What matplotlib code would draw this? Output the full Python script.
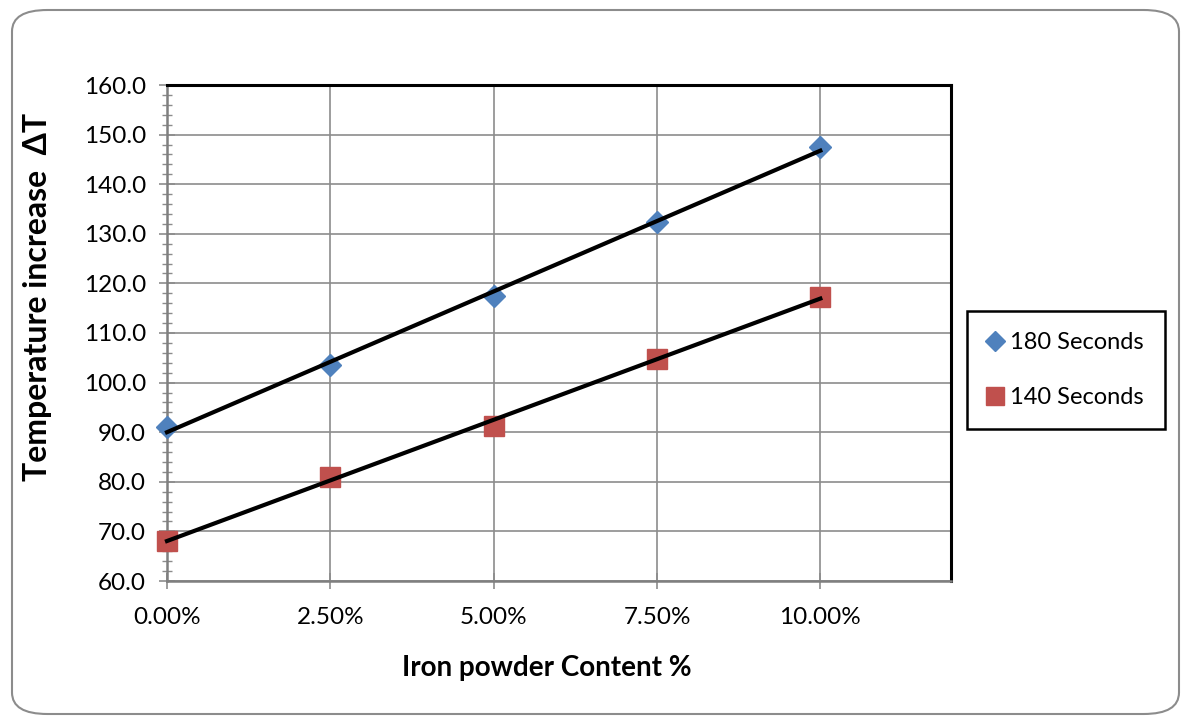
import matplotlib.pyplot as plt
import numpy as np
from matplotlib.patches import FancyBboxPatch
from matplotlib.ticker import MultipleLocator, PercentFormatter

plt.rcParams['font.family'] = ['Lato', 'DejaVu Sans']

# 铁粉含量
iron_content = [0.0, 0.025, 0.05, 0.075, 0.10]
# 温升
dt_180 = [91.0, 103.5, 117.5, 132.4, 147.5]
dt_140 = [68.1, 81.0, 91.3, 104.8, 117.3]

fig = plt.figure(figsize=(11.81, 7.16), dpi=100)

# 外框（圆角）
box = FancyBboxPatch((12 / 1181, 2 / 716), 1167 / 1181, 704 / 716,
                     boxstyle='round,pad=0,rounding_size=0.03',
                     transform=fig.transFigure, facecolor='white',
                     edgecolor='#8c8c8c', linewidth=1.5, zorder=-5)
fig.patches.append(box)

ax = fig.add_axes([167 / 1181, 1 - 581 / 716, (951 - 167) / 1181, (581 - 85) / 716])
ax.set_zorder(2)

ax.plot(iron_content, dt_180, linestyle='none', marker='D', markersize=11,
        color='#4F81BD', label='180 Seconds', zorder=3, clip_on=False)
ax.plot(iron_content, dt_140, linestyle='none', marker='s', markersize=14,
        color='#C0504D', label='140 Seconds', zorder=3, clip_on=False)

# 线性趋势线
x = np.array(iron_content)
for ys in (dt_180, dt_140):
    k, b = np.polyfit(x, ys, 1)
    ax.plot(x, k * x + b, color='black', linewidth=3, zorder=4, clip_on=False)

ax.set_xlim(0, 0.12)
ax.set_ylim(60, 160)
ax.set_xticks(iron_content)
ax.xaxis.set_major_formatter(PercentFormatter(xmax=1, decimals=2))
ax.yaxis.set_major_locator(MultipleLocator(10))
ax.yaxis.set_minor_locator(MultipleLocator(2))
ax.yaxis.set_major_formatter(lambda v, p: f'{v:.1f}')

ax.grid(True, which='major', color='#8c8c8c', linewidth=1.2, zorder=1)
ax.set_axisbelow(True)

ax.tick_params(axis='both', which='major', direction='inout', length=12, width=1.2,
               color='#8c8c8c', labelsize=17.5)
ax.tick_params(axis='y', which='major', pad=9)
ax.tick_params(axis='x', which='major', pad=13)
ax.tick_params(axis='y', which='minor', direction='inout', length=7, width=1,
               color='#8c8c8c')

for side in ('top', 'right'):
    ax.spines[side].set_color('black')
    ax.spines[side].set_linewidth(2.2)
for side in ('left', 'bottom'):
    ax.spines[side].set_color('#7f7f7f')
    ax.spines[side].set_linewidth(1.8)

ax.set_xlabel('Iron powder Content %', fontsize=20, fontweight='bold')
ax.xaxis.set_label_coords((547 - 167) / 784, (581 - 655) / 496)
ax.set_ylabel('Temperature increase  ΔT', fontsize=23, fontweight='bold')
ax.yaxis.set_label_coords((52 - 167) / 784, (581 - 297) / 496)

leg = fig.legend(loc='center', bbox_to_anchor=(1066 / 1181, 1 - 370 / 716),
                 fontsize=17, frameon=True, fancybox=False, edgecolor='black',
                 framealpha=1, handlelength=0.6, handletextpad=0.35, labelspacing=1.45,
                 borderpad=0.9, markerscale=0.9)
leg.get_frame().set_linewidth(1.8)

fig.savefig('out.png', dpi=100)
